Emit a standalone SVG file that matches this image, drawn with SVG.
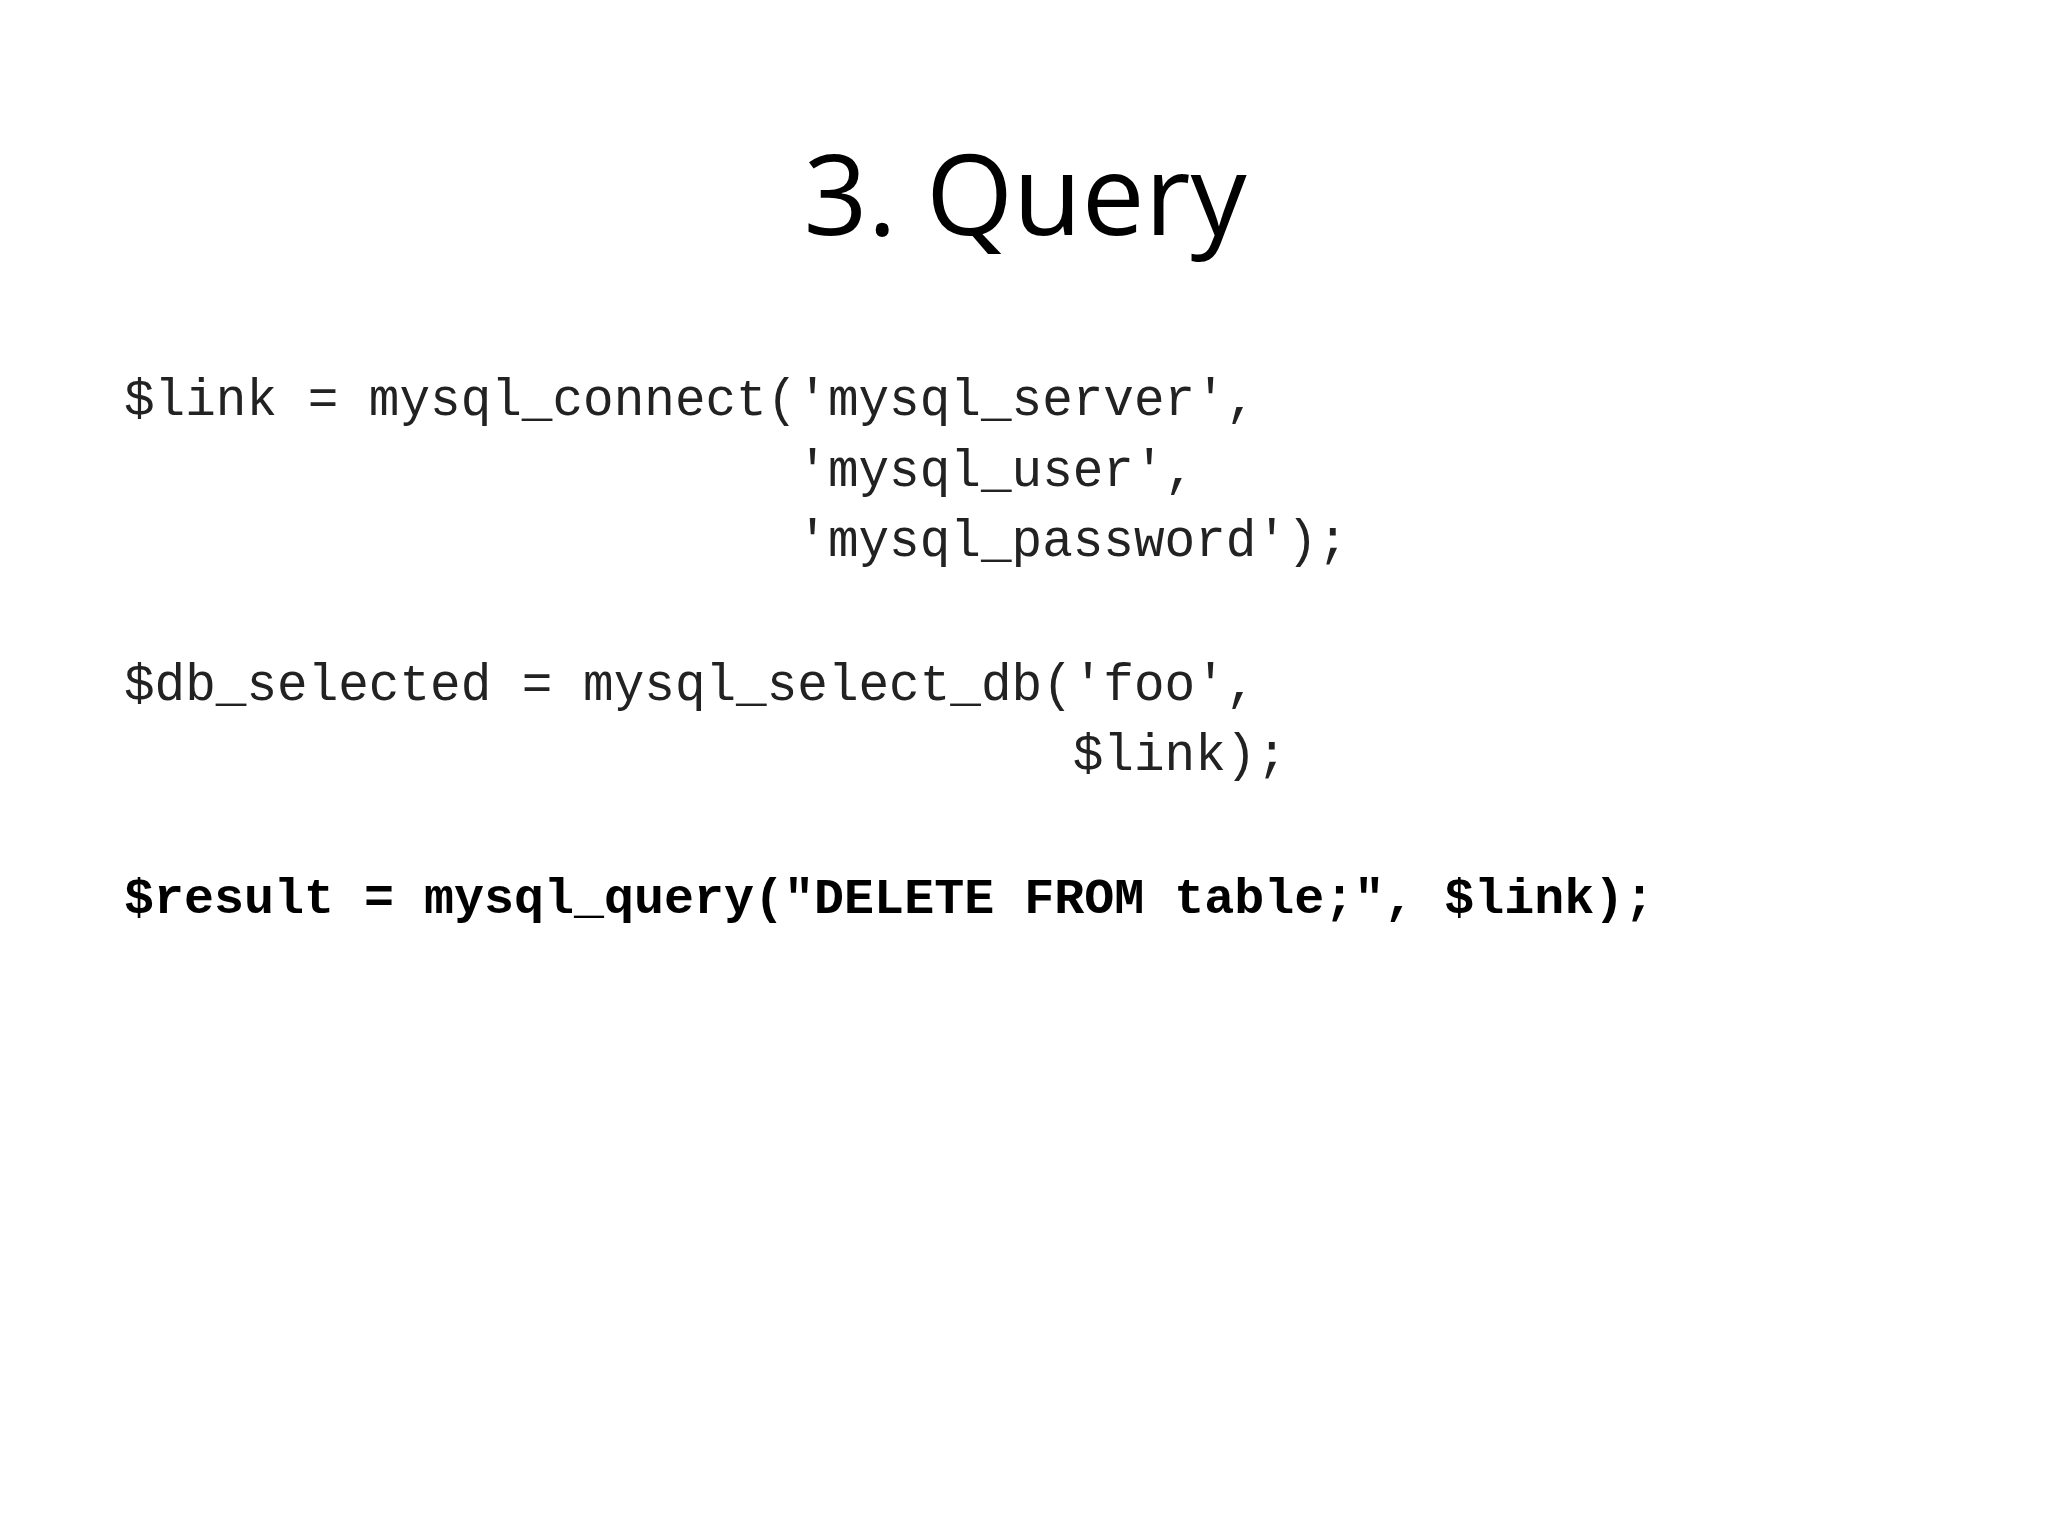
<svg xmlns="http://www.w3.org/2000/svg" width="2048" height="1536" viewBox="0 0 2048 1536">
<style>
.t{font-family:"Open Sans","Noto Sans","Liberation Sans",sans-serif;font-size:112px;fill:#000}
.c{font-family:"Liberation Mono","Courier New",monospace;font-size:51px;fill:#222;white-space:pre}
.b{font-weight:bold;fill:#000;font-size:50px}
</style>
<rect width="2048" height="1536" fill="#fff"/>
<g id="title"><text class="t" x="1025" y="235" text-anchor="middle">3. Query</text></g>
<g id="code" xml:space="preserve">
<text class="c" x="124" y="415">$link = mysql_connect('mysql_server',</text>
<text class="c" x="124" y="486">                      'mysql_user',</text>
<text class="c" x="124" y="556">                      'mysql_password');</text>
<text class="c" x="124" y="700">$db_selected = mysql_select_db('foo',</text>
<text class="c" x="124" y="770">                               $link);</text>
<text class="c b" x="124" y="913">$result = mysql_query("DELETE FROM table;", $link);</text>
</g>
</svg>
